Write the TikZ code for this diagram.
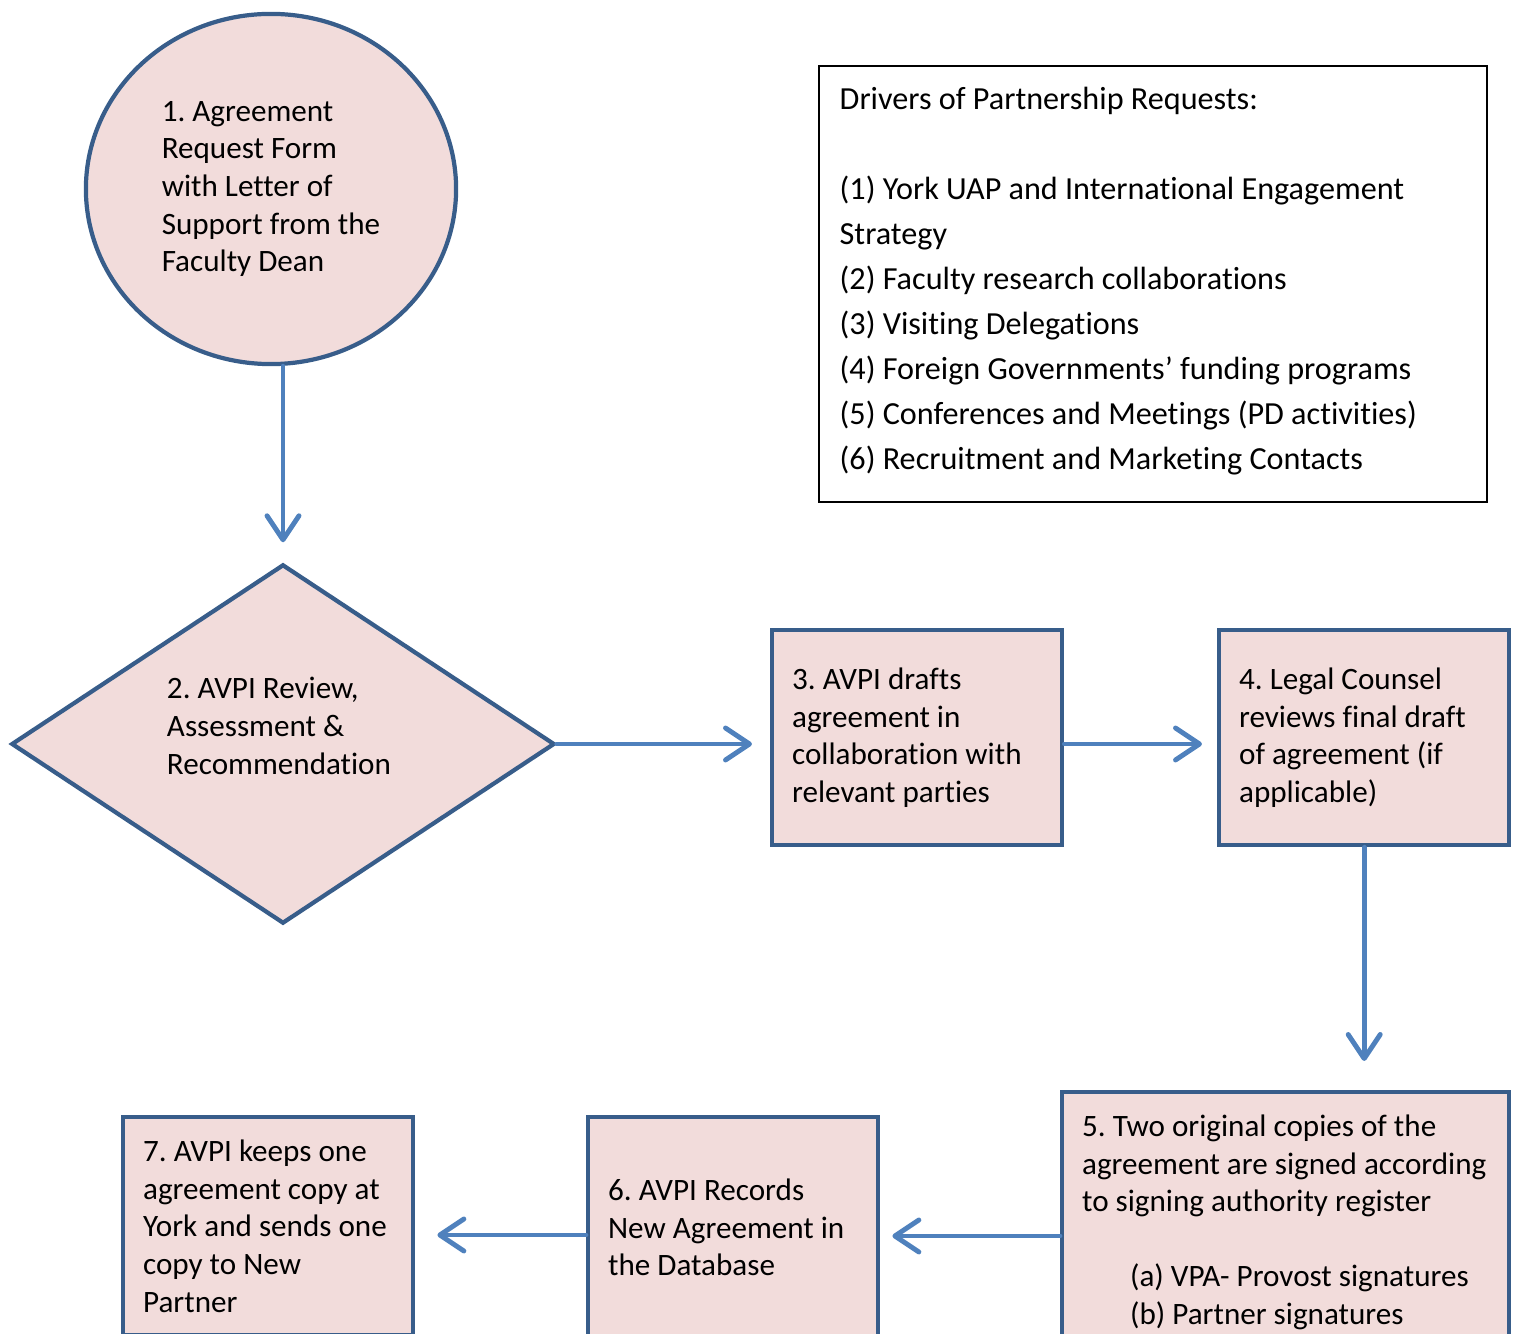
\documentclass[tikz,border=0pt]{standalone}
\usepackage{fontspec}
\setmainfont{Carlito}[Ligatures=CommonOff]
\usetikzlibrary{shapes.geometric,arrows.meta}
\definecolor{stagefill}{HTML}{F2DCDB}
\definecolor{stageline}{HTML}{385D8A}
\definecolor{flowblue}{HTML}{4F81BD}
\newcommand{\stagefont}{\fontsize{8.85}{10.7}\selectfont}
\frenchspacing
\tikzset{
  every node/.style={execute at begin node={\spaceskip 0pt\relax}},
  stage/.style={rectangle, draw=stageline, line width=1.2pt, fill=stagefill,
    align=left, inner sep=0.23cm, font=\stagefont},
  stagebox/.style={stage, anchor=north west, minimum width=2.9cm, text width=2.5cm, inner xsep=0.2cm},
  flow/.style={draw=flowblue, line width=1.4pt, line cap=round,
    -{Straight Barb[length=0.24cm,width=0.32cm,line cap=round,line join=round]}}
}
\begin{document}
\begin{tikzpicture}[x=0.01cm,y=-0.01cm]
\useasboundingbox (0,0) rectangle (1520,1334);
\clip (0,0) rectangle (1520,1334);
% request form
\node[stage, ellipse, minimum width=3.70cm, minimum height=3.50cm, inner sep=0pt] (circ) at (271,189)
  {1. Agreement\\Request Form\\with Letter of\\Support from the\\Faculty Dean};
% review
\node[stage, diamond, minimum width=5.43cm, minimum height=3.59cm, inner sep=0pt] (dia) at (283,744) {};
\node[align=left, font=\stagefont, inner sep=0pt] (diatext) at (279,726)
  {2. AVPI Review,\\Assessment \&\\Recommendation};
% drafting and legal review
\node[stagebox, minimum height=2.15cm] (box3) at (770,628)
  {3. AVPI drafts\\agreement in\\collaboration with\\relevant parties};
\node[stagebox, minimum height=2.15cm] (box4) at (1217,628)
  {4. Legal Counsel\\reviews final draft\\of agreement (if\\applicable)};
% signing, recording, copies
\node[stagebox, minimum width=4.47cm, text width=4.07cm, minimum height=2.36cm] (box5) at (1060,1090)
  {5. Two original copies of the\\agreement are signed according\\to signing authority register\\[0.37cm]
   \hspace*{0.48cm}(a) VPA- Provost signatures\\\hspace*{0.48cm}(b) Partner signatures};
\node[stagebox, minimum height=2.21cm] (box6) at (586,1115)
  {6. AVPI Records\\New Agreement in\\the Database};
\node[stagebox, minimum height=2.18cm] (box7) at (121,1115)
  {7. AVPI keeps one\\agreement copy at\\York and sends one\\copy to New\\Partner};
% drivers
\node[anchor=north west, minimum width=6.66cm, minimum height=4.25cm,
  text width=6.26cm, inner sep=0.2cm, align=left, font=\fontsize{9.15}{12.8}\selectfont] (drivers) at (819,66)
  {Drivers of Partnership Requests:\\[12.8pt]
   (1) York UAP and International Engagement\\Strategy\\
   (2) Faculty research collaborations\\
   (3) Visiting Delegations\\
   (4) Foreign Governments’ funding programs\\
   (5) Conferences and Meetings (PD activities)\\
   (6) Recruitment and Marketing Contacts};
\draw[black, line width=0.6pt] (drivers.north west) rectangle (drivers.east |- 0,502);
% connectors
\draw[flow, shorten >=0.2cm] (circ.south -| dia.north) -- (dia.north);
\draw[flow, shorten >=0.18cm] (dia.east) -- (dia.east -| box3.west);
\draw[flow, shorten >=0.15cm] (dia.east -| box3.east) -- (dia.east -| box4.west);
\draw[flow, shorten >=0.29cm] (box4.south) -- (box4.south |- box5.north);
\draw[flow, shorten >=0.12cm] (box5.west |- 0,1236) -- (box6.east |- 0,1236);
\draw[flow, shorten >=0.22cm] (box6.west |- 0,1235) -- (box7.east |- 0,1235);
\end{tikzpicture}
\end{document}
